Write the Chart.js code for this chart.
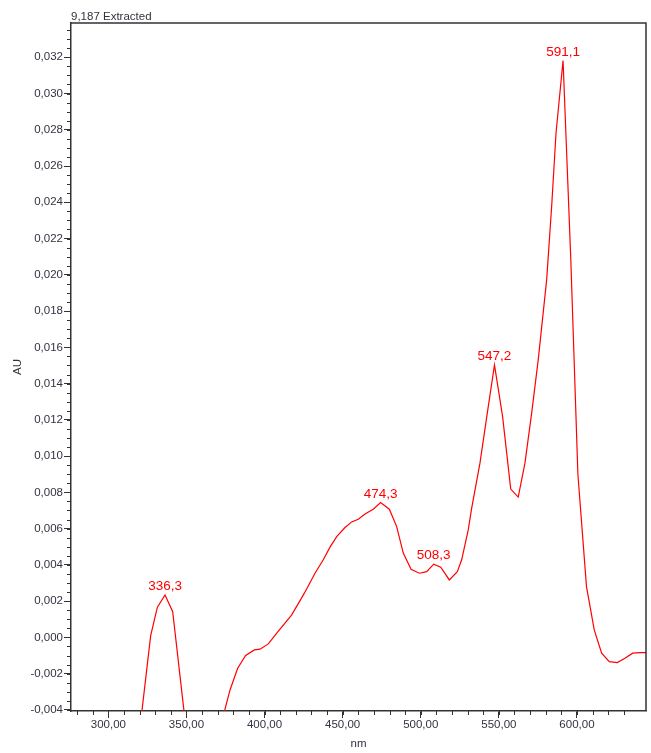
<!DOCTYPE html>
<html>
<head>
<meta charset="utf-8">
<script src="https://cdn.jsdelivr.net/npm/chart.js@4"></script>
<style>
  html, body { margin: 0; padding: 0; background: #ffffff; }
  canvas { display: block; }
</style>
</head>
<body>
<canvas id="spectrum" width="651" height="753"></canvas>
<script>
// Extracted UV-Vis spectrum at 9,187 min
const wavelengths = [
  313.9, 318.5, 327.1, 331.4, 336.3, 341.2, 350.2, 355.0, 360.0, 365.0, 370.0,
  377.9, 382.8, 387.9, 393.5, 397.1, 402.4, 407.8, 417.4, 425.5, 432.3, 437.6,
  441.9, 446.2, 451.5, 455.8, 460.0, 464.3, 469.6, 474.3, 479.9, 484.6, 488.8,
  493.8, 499.1, 503.8, 508.3, 512.8, 518.3, 523.4, 526.2, 530.4, 532.6, 537.9,
  542.6, 547.2, 552.4, 557.6, 562.4, 566.7, 571.0, 575.2, 580.6, 583.8, 586.6,
  591.1, 596.0, 600.6, 606.1, 611.1, 615.8, 620.7, 625.8, 630.7, 635.7, 640.5,
  645.0
];
const absorbance = [
  -0.0095, -0.0063, 0.0001, 0.00167, 0.00234, 0.00142, -0.0054, -0.0085, -0.0095, -0.0082, -0.0055,
  -0.0029, -0.0017, -0.0010, -0.00069, -0.00065, -0.00036, 0.00023, 0.00124, 0.00244, 0.00354, 0.00428,
  0.00498, 0.00556, 0.00606, 0.00637, 0.00652, 0.00681, 0.00707, 0.00744, 0.00707, 0.00611, 0.00465,
  0.00376, 0.00354, 0.00363, 0.00404, 0.00387, 0.00317, 0.00363, 0.00428, 0.00593, 0.00713, 0.00961,
  0.01237, 0.01503, 0.01218, 0.00818, 0.00774, 0.00961, 0.01237, 0.01531, 0.01972, 0.02377, 0.02782,
  0.03182, 0.0210, 0.0090, 0.0028, 0.0004, -0.00087, -0.00134, -0.00139, -0.00115, -0.00087, -0.00084,
  -0.00084
];
const peakWavelengths = [336.3, 474.3, 508.3, 547.2, 591.1];

const xTickValues = [300, 350, 400, 450, 500, 550, 600];
const yTickValues = [
  -0.004, -0.002, 0.000, 0.002, 0.004, 0.006, 0.008, 0.010, 0.012, 0.014,
  0.016, 0.018, 0.020, 0.022, 0.024, 0.026, 0.028, 0.030, 0.032
];

const chartTitle = '9,187 Extracted';
const xTitle = 'nm';
const yTitle = 'AU';

const FONT = '"Liberation Sans", Arial, sans-serif';
const INK = '#333340';
const AXIS = '#333333';
const TRACE = '#ff0000';

const comma = (v, d) => v.toFixed(d).replace('.', ',');

// Frame, minor ticks, title and peak annotations
const decorations = {
  id: 'decorations',
  afterDatasetsDraw(chart) {
    const { ctx, chartArea: a, scales: { x, y } } = chart;
    ctx.save();

    // top and right sides of the plot frame
    ctx.strokeStyle = AXIS;
    ctx.lineWidth = 1.5;
    ctx.beginPath();
    ctx.moveTo(a.left, a.top);
    ctx.lineTo(a.right, a.top);
    ctx.lineTo(a.right, a.bottom);
    ctx.stroke();

    // minor ticks
    ctx.lineWidth = 1;
    ctx.beginPath();
    for (let k = -8; k <= 67; k++) {
      const v = k * 0.0005;
      if (v < y.min || v > y.max) continue;
      const py = Math.round(y.getPixelForValue(v)) + 0.5;
      ctx.moveTo(a.left - 4, py);
      ctx.lineTo(a.left, py);
    }
    for (let w = 280; w <= 630; w += 10) {
      const px = Math.round(x.getPixelForValue(w)) + 0.5;
      ctx.moveTo(px, a.bottom);
      ctx.lineTo(px, a.bottom + 4);
    }
    ctx.stroke();

    // chart title
    ctx.fillStyle = INK;
    ctx.font = '11.5px ' + FONT;
    ctx.textAlign = 'left';
    ctx.textBaseline = 'alphabetic';
    ctx.fillText(chartTitle, a.left, a.top - 3);

    // peak wavelength labels
    const meta = chart.getDatasetMeta(0);
    ctx.fillStyle = TRACE;
    ctx.font = '13.5px ' + FONT;
    ctx.textAlign = 'center';
    peakWavelengths.forEach(p => {
      const i = wavelengths.indexOf(p);
      if (i < 0) return;
      const pt = meta.data[i];
      ctx.fillText(comma(p, 1), pt.x, pt.y - 5);
    });
    ctx.restore();
  }
};

Chart.defaults.font.family = FONT;
Chart.defaults.color = INK;

new Chart(document.getElementById('spectrum'), {
  type: 'line',
  data: {
    datasets: [{
      data: wavelengths.map((w, i) => ({ x: w, y: absorbance[i] })),
      borderColor: TRACE,
      borderWidth: 1.2,
      pointRadius: 0,
      tension: 0,
      fill: false
    }]
  },
  options: {
    responsive: false,
    animation: false,
    layout: { padding: { top: 23, right: 5, left: 0, bottom: 0 } },
    plugins: {
      legend: { display: false },
      title: { display: false },
      tooltip: { enabled: false }
    },
    scales: {
      x: {
        type: 'linear',
        min: 276.1,
        max: 644.2,
        afterBuildTicks: s => { s.ticks = xTickValues.map(v => ({ value: v })); },
        afterFit: s => { s.height = 42; },
        ticks: {
          padding: 0,
          color: INK,
          font: { size: 11.5 },
          maxRotation: 0,
          autoSkip: false,
          callback: v => comma(v, 2)
        },
        grid: {
          drawOnChartArea: false,
          drawTicks: true,
          tickLength: 7,
          color: AXIS,
          tickColor: AXIS
        },
        border: { display: true, color: AXIS, width: 1.5 },
        title: {
          display: true,
          text: xTitle,
          color: INK,
          font: { size: 11.5 },
          padding: { top: 0, bottom: 2 }
        }
      },
      y: {
        type: 'linear',
        min: -0.00406,
        max: 0.03389,
        afterBuildTicks: s => { s.ticks = yTickValues.map(v => ({ value: v })); },
        afterFit: s => { s.width = 71; },
        ticks: {
          padding: 1,
          color: INK,
          font: { size: 11.5 },
          autoSkip: false,
          callback: v => comma(v, 3)
        },
        grid: {
          drawOnChartArea: false,
          drawTicks: true,
          tickLength: 7,
          color: AXIS,
          tickColor: AXIS
        },
        border: { display: true, color: AXIS, width: 1.5 },
        title: {
          display: true,
          text: yTitle,
          color: INK,
          font: { size: 11.5 },
          padding: { top: 11, bottom: 0 }
        }
      }
    }
  },
  plugins: [decorations]
});
</script>
</body>
</html>
